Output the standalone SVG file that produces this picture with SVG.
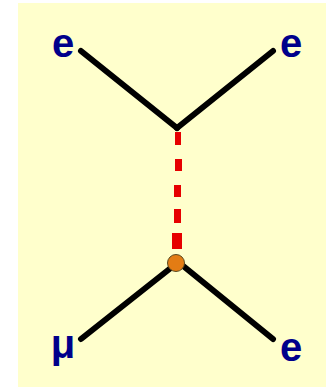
<svg xmlns="http://www.w3.org/2000/svg" width="332" height="387" viewBox="0 0 332 387">
<style>
.l{font-family:"Liberation Sans",Arial,sans-serif;font-weight:700;font-size:40px;fill:#00008b;text-anchor:middle}
.f{stroke:#000;stroke-width:6;stroke-linecap:round;fill:none}
.d{fill:#e60000}
</style>
<rect width="332" height="387" fill="#fff"/>
<rect x="18" y="3" width="308" height="384" fill="#ffffcc"/>
<g id="connectors">
<path class="f" d="M81 51L177 128"/>
<path class="f" d="M273 51L177 128"/>
<path class="f" d="M81 339L172 267"/>
<path class="f" d="M273 339L182 265"/>
<rect class="d" x="175" y="132" width="6" height="13"/>
<rect class="d" x="175" y="159" width="7" height="12"/>
<rect class="d" x="174" y="185" width="7" height="12"/>
<rect class="d" x="174" y="209" width="7" height="14"/>
<rect class="d" x="172" y="233" width="10" height="16"/>
</g>
<g id="vertex"><circle cx="176" cy="263" r="8.5" fill="#e37c14" stroke="#5a4a20" stroke-width="1"/></g>
<g id="e-top-left"><text class="l" x="63" y="57">e</text></g>
<g id="e-top-right"><text class="l" x="291" y="57">e</text></g>
<g id="mu"><text class="l" x="63" y="358">μ</text></g>
<g id="e-bottom-right"><text class="l" x="291" y="361">e</text></g>
</svg>
